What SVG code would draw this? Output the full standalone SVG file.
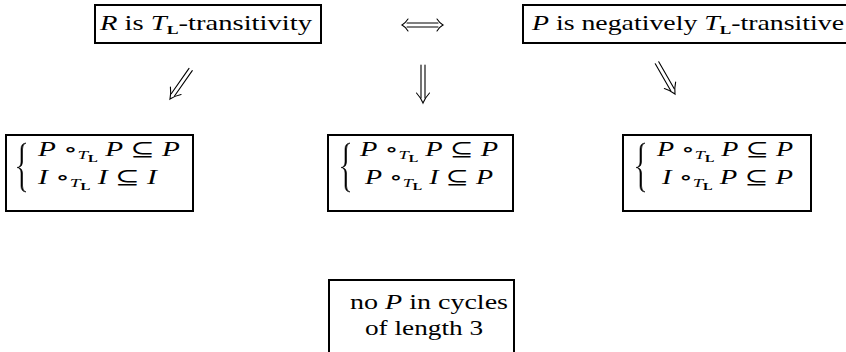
<svg xmlns="http://www.w3.org/2000/svg" width="846" height="352" viewBox="0 0 846 352">
<style>
.box{fill:none;stroke:#000;stroke-width:2}
.t{font-family:"Liberation Serif",serif;font-size:21px;fill:#000}
.m{font-family:"Liberation Serif","DejaVu Serif",serif;font-size:20px;fill:#000}
.i{font-style:italic}
.s{font-size:13px}
.b{font-weight:bold;font-style:normal}
.ss{font-size:10px;font-weight:bold;font-style:normal}
.arr{fill:none;stroke:#000;stroke-width:1.1;stroke-linecap:round}
.brace{fill:#000;stroke:#000;stroke-width:0.6;stroke-linejoin:round}
</style>
<defs>
<path id="brace" class="brace" d="M9,0 Q4,0.5 4,6 L4,19 Q4,24 0,24.5 Q4,25 4,30 L4,43 Q4,48.5 9,49 Q5.5,48 5.5,43 L5.5,30 Q5.5,25.5 1.5,24.5 Q5.5,23.5 5.5,19 L5.5,6 Q5.5,1 9,0 Z"/>
</defs>
<rect width="846" height="352" fill="#fff"/>
<g id="node-r-transitivity">
<rect class="box" x="95" y="5" width="226" height="38"/>
<text class="t" x="100" y="30" textLength="212" lengthAdjust="spacingAndGlyphs"><tspan class="i">R</tspan> is <tspan class="i">T</tspan><tspan class="s b" dy="4">L</tspan><tspan dy="-4">-transitivity</tspan></text>
</g>
<g id="node-p-negative">
<rect class="box" x="523" y="5" width="340" height="38"/>
<text class="t" x="532" y="30" textLength="312" lengthAdjust="spacingAndGlyphs"><tspan class="i">P</tspan> is negatively <tspan class="i">T</tspan><tspan class="s b" dy="4">L</tspan><tspan dy="-4">-transitive</tspan></text>
</g>
<g id="node-left">
<rect class="box" x="6" y="135" width="187" height="76"/>
<use href="#brace" x="17" y="143"/>
<text class="m" x="38" y="156" textLength="142" lengthAdjust="spacingAndGlyphs"><tspan class="i">P</tspan> ∘<tspan class="s i" dy="3">T</tspan><tspan class="ss" dy="3">L</tspan><tspan dy="-6"> </tspan><tspan class="i">P</tspan> ⊆ <tspan class="i">P</tspan></text>
<text class="m" x="38" y="184" textLength="119" lengthAdjust="spacingAndGlyphs"><tspan class="i">I</tspan> ∘<tspan class="s i" dy="3">T</tspan><tspan class="ss" dy="3">L</tspan><tspan dy="-6"> </tspan><tspan class="i">I</tspan> ⊆ <tspan class="i">I</tspan></text>
</g>
<g id="node-middle">
<rect class="box" x="328" y="135" width="185" height="76"/>
<use href="#brace" x="341" y="143"/>
<text class="m" x="360" y="156" textLength="138" lengthAdjust="spacingAndGlyphs"><tspan class="i">P</tspan> ∘<tspan class="s i" dy="3">T</tspan><tspan class="ss" dy="3">L</tspan><tspan dy="-6"> </tspan><tspan class="i">P</tspan> ⊆ <tspan class="i">P</tspan></text>
<text class="m" x="365" y="184" textLength="128" lengthAdjust="spacingAndGlyphs"><tspan class="i">P</tspan> ∘<tspan class="s i" dy="3">T</tspan><tspan class="ss" dy="3">L</tspan><tspan dy="-6"> </tspan><tspan class="i">I</tspan> ⊆ <tspan class="i">P</tspan></text>
</g>
<g id="node-right">
<rect class="box" x="623" y="135" width="188" height="76"/>
<use href="#brace" x="636" y="143"/>
<text class="m" x="657" y="156" textLength="136" lengthAdjust="spacingAndGlyphs"><tspan class="i">P</tspan> ∘<tspan class="s i" dy="3">T</tspan><tspan class="ss" dy="3">L</tspan><tspan dy="-6"> </tspan><tspan class="i">P</tspan> ⊆ <tspan class="i">P</tspan></text>
<text class="m" x="662" y="184" textLength="131" lengthAdjust="spacingAndGlyphs"><tspan class="i">I</tspan> ∘<tspan class="s i" dy="3">T</tspan><tspan class="ss" dy="3">L</tspan><tspan dy="-6"> </tspan><tspan class="i">P</tspan> ⊆ <tspan class="i">P</tspan></text>
</g>
<g id="node-cycles">
<rect class="box" x="329" y="280" width="185" height="100"/>
<text class="t" x="350" y="309" textLength="158" lengthAdjust="spacingAndGlyphs">no <tspan class="i">P</tspan> in cycles</text>
<text class="t" x="365" y="335" textLength="118" lengthAdjust="spacingAndGlyphs">of length 3</text>
</g>
<g id="connectors">
<g id="iff">
<path class="arr" d="M407,23 L438,23 M407,27 L438,27"/>
<path class="arr" d="M408,19 Q405,23.5 402,25 Q405,26.5 408,31"/>
<path class="arr" d="M437,19 Q440,23.5 443,25 Q440,26.5 437,31"/>
</g>
<g id="arrow-left" transform="translate(170,99) rotate(35)">
<path class="arr" d="M-2,-36 L-2,-5 M2,-36 L2,-5"/>
<path class="arr" d="M-6.5,-10 Q-2,-5 0,0 Q2,-5 6.5,-10"/>
</g>
<g id="arrow-mid" transform="translate(423,103)">
<path class="arr" d="M-2,-38 L-2,-5 M2,-38 L2,-5"/>
<path class="arr" d="M-6.5,-10 Q-2,-5 0,0 Q2,-5 6.5,-10"/>
</g>
<g id="arrow-right" transform="translate(675,94) rotate(-30)">
<path class="arr" d="M-2,-36 L-2,-5 M2,-36 L2,-5"/>
<path class="arr" d="M-6.5,-10 Q-2,-5 0,0 Q2,-5 6.5,-10"/>
</g>
</g>
</svg>
